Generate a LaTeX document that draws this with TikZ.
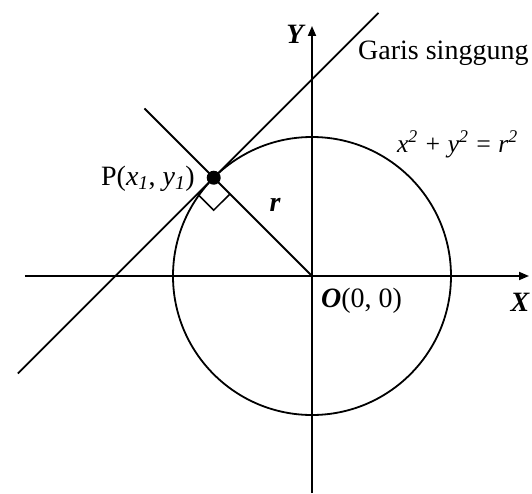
\documentclass[tikz,border=0pt]{standalone}
\usepackage{fontspec}
\setmainfont{Liberation Serif}
\usetikzlibrary{arrows.meta,calc}
\begin{document}
\begin{tikzpicture}[x=1pt,y=1pt,
  ln/.style={line width=1.8pt},
  axis/.style={ln,-{Triangle[length=10pt,width=8pt]}},
  lbl/.style={inner sep=0pt,font=\fontsize{28}{32}\selectfont},
  blbl/.style={inner sep=0pt,font=\fontsize{28}{32}\selectfont\bfseries\itshape}]
\useasboundingbox (-312,-217) rectangle (220,276);
\coordinate (O) at (0,0);
\coordinate (P) at (135:139);
\coordinate (Xs) at (-287,0);
\coordinate (Xe) at (217,0);
\coordinate (Ys) at (0,-217);
\coordinate (Ye) at (0,250);
\coordinate (T1) at ($(P)+(225:277)$);
\coordinate (T2) at ($(P)+(45:233)$);
\coordinate (N) at (135:237);
\coordinate (Q1) at ($(P)+(225:23)$);
\coordinate (Q2) at ($(P)+(315:23)$);
\coordinate (Q3) at ($(P)+(270:32.5)$);
% axes
\draw[axis] (Xs) -- (Xe);
\draw[axis] (Ys) -- (Ye);
% circle
\draw[ln] (O) circle (139);
% tangent and normal
\draw[ln] (T1) -- (T2);
\draw[ln] (O) -- (N);
% right angle
\draw[line width=1.5pt] (Q1) -- (Q3) -- (Q2);
\fill (P) circle (7);
% labels
\node[blbl,anchor=base] (ylab) at (-17,232) {Y};
\node[blbl,anchor=base] (xlab) at (208,-35) {X};
\node[lbl,anchor=base west] (olab) at (9,-31) {\textbf{\textit{O}}(0, 0)};
\node[blbl,anchor=base] (rlab) at (-37,65) {r};
\node[lbl,anchor=base east] (plab) at (-117,91) {P(\textit{x\textsubscript{1}}, \textit{y\textsubscript{1}})};
\node[lbl,anchor=base west] (glab) at (46,216) {Garis singgung};
\node[lbl,anchor=base east,font=\fontsize{25.5}{30}\selectfont] (eq) at (206,124) {\textit{x\textsuperscript{2} + y\textsuperscript{2} = r\textsuperscript{2}}};
\end{tikzpicture}
\end{document}
